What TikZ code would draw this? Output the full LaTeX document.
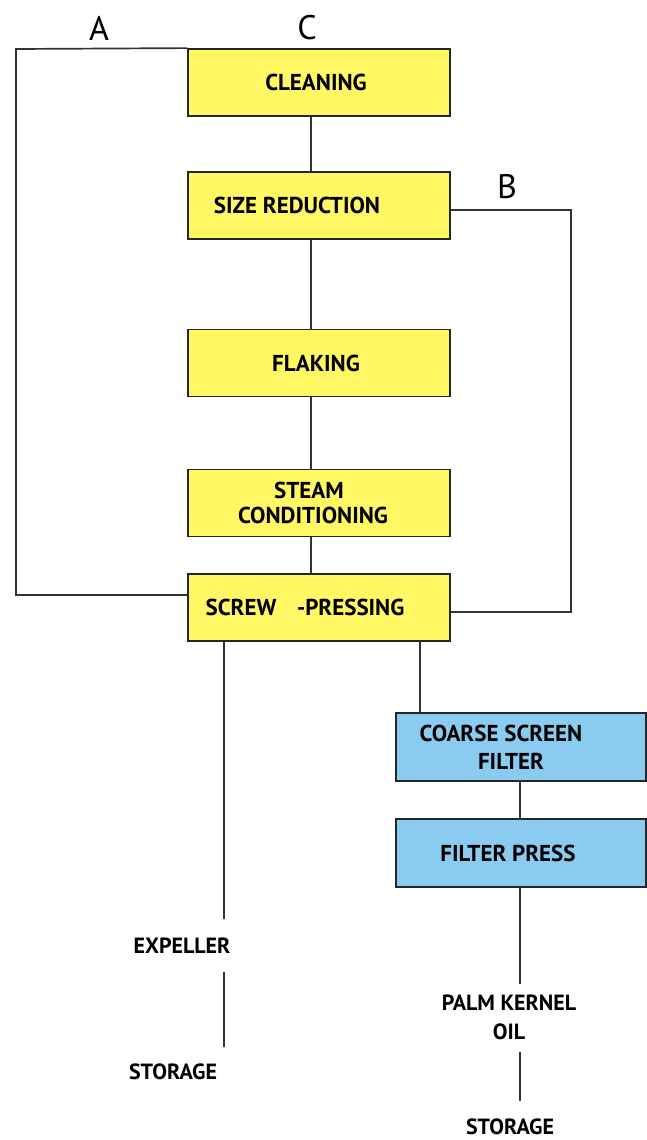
\documentclass[tikz,border=0pt]{standalone}
\usepackage{fontspec}
\setmainfont{PT Sans}
\begin{document}
\begin{tikzpicture}[x=1pt,y=-1pt,
  box/.style={draw=black!85,line width=1.8pt,minimum width=262pt,minimum height=67pt,inner sep=0pt,font=\bfseries\fontsize{23}{25}\selectfont,align=center},
  ybox/.style={box,fill=yellowfill},
  bbox/.style={box,fill=bluefill,minimum width=250pt,minimum height=68pt,font=\bfseries\fontsize{23}{28}\selectfont},
  conn/.style={draw=black!80,line width=1.7pt},
  lbl/.style={font=\bfseries\fontsize{22}{29}\selectfont,inner sep=0pt,align=center,text height=13pt,text depth=0pt},
  letter/.style={font=\fontsize{34}{34}\selectfont,inner sep=0pt}]
\definecolor{yellowfill}{RGB}{255,247,100}
\definecolor{bluefill}{RGB}{140,203,240}
\useasboundingbox (0,0) rectangle (646,1140);
\fill[white] (0,0) rectangle (646,1140);
% boxes
\node[ybox] (clean) at (319,82.5) {CLEANING\hspace*{6pt}};
\node[ybox] (size) at (319,205.5) {SIZE REDUCTION\hspace*{44pt}};
\node[ybox] (flak) at (319,363) {FLAKING\hspace*{6pt}};
\node[ybox] (steam) at (319,503) {STEAM\hspace*{20pt}\\CONDITIONING\hspace*{12pt}};
\node[ybox] (screw) at (319,607.5) {SCREW\hspace{0.9em}-PRESSING\hspace*{28pt}};
\node[bbox] (coarse) at (521,747) {COARSE SCREEN\hspace*{40pt}\\FILTER\hspace*{20pt}};
\node[bbox] (fpress) at (521,853) {FILTER PRESS\hspace*{26pt}};
% labels
\node[letter] (A) at (99,28) {A};
\node[letter] (C) at (307,28) {C};
\node[letter] (B) at (507,187) {B};
\node[lbl] (exp) at (182,947) {EXPELLER};
\node[lbl] (sto1) at (173,1073) {STORAGE};
\node[lbl] (pko) at (509,1033) {PALM KERNEL\\OIL};
\node[lbl] (sto2) at (510,1128) {STORAGE};
% helper coordinates
\coordinate (cx) at (311,0);
\coordinate (l1) at (224,0);
\coordinate (l2) at (420,0);
\coordinate (r1) at (520,0);
\coordinate (aL) at (16,49);
\coordinate (aB) at (16,595);
\coordinate (bT) at (571,210);
\coordinate (bB) at (571,612);
% vertical chain
\draw[conn] (clean.south -| cx) -- (size.north -| cx);
\draw[conn] (size.south -| cx) -- (flak.north -| cx);
\draw[conn] (flak.south -| cx) -- (steam.north -| cx);
\draw[conn] (steam.south -| cx) -- (screw.north -| cx);
% loop A
\draw[conn] (clean.north west) -- (aL) -- (aB) -- (screw.west |- aB);
% loop B
\draw[conn] (size.east |- bT) -- (bT) -- (bB) -- (screw.east |- bB);
% outputs
\draw[conn,shorten >=21pt] (screw.south -| l1) -- (l1 |- exp.north);
\draw[conn,shorten <=18pt,shorten >=19pt] (l1 |- exp.south) -- (l1 |- sto1.north);
\draw[conn] (screw.south -| l2) -- (coarse.north -| l2);
\draw[conn] (coarse.south -| r1) -- (fpress.north -| r1);
\draw[conn,shorten >=42pt] (fpress.south -| r1) -- (r1 |- pko.north);
\draw[conn,shorten <=12pt,shorten >=20pt] (r1 |- pko.south) -- (r1 |- sto2.north);
\end{tikzpicture}
\end{document}
